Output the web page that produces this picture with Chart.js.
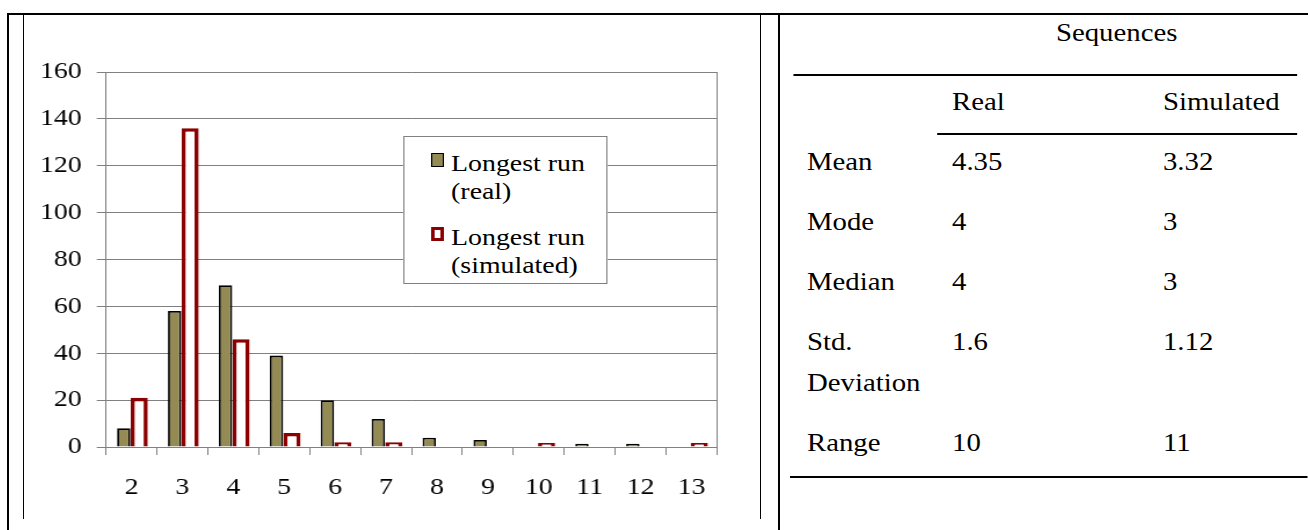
<!DOCTYPE html>
<html>
<head>
<meta charset="utf-8">
<script src="https://cdn.jsdelivr.net/npm/chart.js@4.4.1/dist/chart.umd.min.js"></script>
<style>
    html, body { margin: 0; padding: 0; background: #fff; }
    body {
        width: 1308px; height: 530px; position: relative; overflow: hidden;
        font-family: 'Liberation Serif', 'Times New Roman', serif; color: #000;
    }
    .rule { position: absolute; background: #000; }
    /* the whole document is slightly wide, so text gets stretched a bit */
    #chartBox {
        position: absolute; left: 24px; top: 0; width: 634px; height: 515px;
        transform: scaleX(1.16); transform-origin: 0 0;
    }
    #legendBox {
        position: absolute; left: 326.7px; top: 136px; width: 175.9px; height: 148px;
        box-sizing: border-box; border: 1px solid #808080; background: #fff;
    }
    .legend-swatch { position: absolute; left: 23px; box-sizing: border-box; width: 11.5px; height: 14px; }
    .legend-text {
        position: absolute; left: 40.5px; width: 135px;
        font-size: 24px; line-height: 28px; white-space: normal;
    }
    #tableBox {
        position: absolute; left: 790px; top: 0; width: 450.4px; height: 530px;
        transform: scaleX(1.15); transform-origin: 0 0;
    }
    .cell { position: absolute; font-size: 25px; line-height: 41px; white-space: nowrap; }
    .cell.wrap { white-space: normal; width: 118px; }
</style>
</head>
<body>

<div class="rule" style="left:7px; top:13px; width:1301px; height:2px;"></div>
<div class="rule" style="left:7px; top:13px; width:2px; height:517px;"></div>
<div class="rule" style="left:23px; top:13px; width:1px; height:506px;"></div>
<div class="rule" style="left:760px; top:13px; width:1px; height:506px;"></div>
<div class="rule" style="left:778px; top:13px; width:2px; height:517px;"></div>

<div id="chartBox">
    <canvas id="runChart"></canvas>
    <div id="legendBox"></div>
</div>

<div id="tableBox">
    <div class="rule" style="left:2.6px; top:74px; width:438.3px; height:2px;"></div>
    <div class="rule" style="left:127.8px; top:133px; width:313.1px; height:2px;"></div>
    <div class="rule" style="left:0; top:476px; width:450.4px; height:2px;"></div>
</div>

<script>
// longest run length vs number of sequences
const categories = ['2', '3', '4', '5', '6', '7', '8', '9', '10', '11', '12', '13'];
const realCounts = [8, 58, 69, 39, 20, 12, 4, 3, 0, 1, 1, 0];
const simulatedCounts = [21, 136, 46, 6, 2, 2, 0, 0, 1, 0, 0, 1];
const seriesNames = ['Longest run (real)', 'Longest run (simulated)'];
const yMax = 160;
const yStep = 20;

// summary table
const tableTitle = 'Sequences';
const columnNames = ['Real', 'Simulated'];
const statNames = ['Mean', 'Mode', 'Median', 'Std. Deviation', 'Range'];
const realStats = ['4.35', '4', '4', '1.6', '10'];
const simulatedStats = ['3.32', '3', '3', '1.12', '11'];

const serif = "'Liberation Serif', 'Times New Roman', serif";
const tickFont = { family: serif, size: 24 };
const gridGray = '#808080';

// empty bins get no bar at all; tiny counts still show as a visible sliver
function barData(counts) {
    return counts.map(function (v) { return v === 0 ? null : v; });
}

const ctx = document.getElementById('runChart').getContext('2d');

const runChart = new Chart(ctx, {
    type: 'bar',
    data: {
        labels: categories,
        datasets: [{
            label: seriesNames[0],
            data: barData(realCounts),
            backgroundColor: '#948A54',
            borderColor: '#000',
            borderWidth: 1.8,
            minBarLength: 3.3,
            categoryPercentage: 0.61,
            barPercentage: 0.86
        }, {
            label: seriesNames[1],
            data: barData(simulatedCounts),
            backgroundColor: '#fff',
            borderColor: '#8B0000',
            borderWidth: 3.6,
            minBarLength: 4,
            categoryPercentage: 0.61,
            barPercentage: 1.1
        }]
    },
    options: {
        responsive: true,
        maintainAspectRatio: false,
        animation: false,
        layout: { padding: { top: 72, left: 0, right: 36.6, bottom: 0 } },
        plugins: {
            legend: { display: false },
            tooltip: { enabled: false }
        },
        scales: {
            x: {
                grid: { display: true, drawOnChartArea: false, drawTicks: true, tickLength: 8, color: gridGray, offset: true },
                border: { display: true, color: gridGray, z: 1 },
                ticks: { font: tickFont, color: '#000', padding: 18.6, maxRotation: 0, autoSkip: false },
                afterFit: function (scale) { scale.height = 68; }
            },
            y: {
                min: 0,
                max: yMax,
                ticks: { stepSize: yStep, font: tickFont, color: '#000', padding: 13 },
                grid: { color: gridGray, tickLength: 8 },
                border: { display: true, color: gridGray },
                afterFit: function (scale) { scale.width = 70.7; }
            },
            // right edge of the plot frame
            yFrame: {
                position: 'right',
                min: 0,
                max: yMax,
                ticks: { display: false },
                grid: { drawOnChartArea: false, drawTicks: false },
                border: { display: true, color: gridGray },
                afterFit: function (scale) { scale.width = 0; }
            }
        }
    }
});

// legend box sitting inside the plot
const legendBox = document.getElementById('legendBox');
const legendTops = [12, 86];
runChart.data.datasets.forEach(function (ds, i) {
    const swatch = document.createElement('div');
    swatch.className = 'legend-swatch';
    swatch.style.top = (legendTops[i] + 4) + 'px';
    swatch.style.background = ds.backgroundColor;
    swatch.style.border = (i === 0 ? '1.8px' : '3.5px') + ' solid ' + ds.borderColor;
    legendBox.appendChild(swatch);

    const text = document.createElement('div');
    text.className = 'legend-text';
    text.style.top = legendTops[i] + 'px';
    text.textContent = ds.label;
    legendBox.appendChild(text);
});

// statistics table
const tableBox = document.getElementById('tableBox');
const colX = [14.8, 140.9, 324.3];

function addCell(text, x, centerY, extraClass) {
    const el = document.createElement('div');
    el.className = 'cell' + (extraClass ? ' ' + extraClass : '');
    el.textContent = text;
    el.style.left = x + 'px';
    el.style.top = (centerY - 20.6) + 'px';
    tableBox.appendChild(el);
    return el;
}

const title = addCell(tableTitle, 0, 33);
title.style.left = (284.3 - title.offsetWidth / 2) + 'px';
addCell(columnNames[0], colX[1], 102);
addCell(columnNames[1], colX[2], 102);

let rowY = 162;
statNames.forEach(function (name, i) {
    const label = addCell(name, colX[0], rowY, 'wrap');
    addCell(realStats[i], colX[1], rowY);
    addCell(simulatedStats[i], colX[2], rowY);
    const lines = Math.round(label.offsetHeight / 41);
    rowY += 60 + (lines - 1) * 41;
});
</script>
</body>
</html>
